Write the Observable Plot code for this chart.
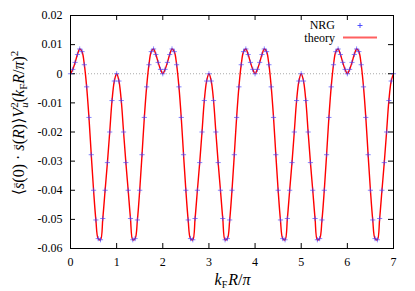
<!DOCTYPE html>
<html>
<head>
<meta charset="utf-8">
<script src="https://cdn.jsdelivr.net/npm/d3@7"></script>
<script src="https://cdn.jsdelivr.net/npm/@observablehq/plot@0.6"></script>
<style>
  html, body { margin: 0; padding: 0; background: #fff; }
  #chart svg { display: block; }
  #chart svg, #chart svg text, #chart svg g { font-family: "Liberation Serif", "DejaVu Serif", serif !important; }
</style>
</head>
<body>
<div id="chart"></div>
<script>
// kF R / pi sampled every xStep from 0 to 7
const xStep = 0.05;
// correlation values (theory curve and NRG points)
const corr = [
  0, 0.0015, 0.0039, 0.0066, 0.0085, 0.0076, 0.0031, -0.0045, -0.0150, -0.0278, -0.0400,
  -0.0502, -0.0566, -0.0570, -0.0497, -0.0400, -0.0305, -0.0200, -0.0092, -0.0025, 0,
  -0.0025, -0.0092, -0.0200, -0.0305, -0.0400, -0.0497, -0.0570, -0.0566, -0.0502, -0.0400,
  -0.0278, -0.0150, -0.0045, 0.0031, 0.0076, 0.0085, 0.0066, 0.0039, 0.0015, 0,
  0.0015, 0.0039, 0.0066, 0.0085, 0.0076, 0.0031, -0.0045, -0.0150, -0.0278, -0.0400,
  -0.0502, -0.0566, -0.0570, -0.0497, -0.0400, -0.0305, -0.0200, -0.0092, -0.0025, 0,
  -0.0025, -0.0092, -0.0200, -0.0305, -0.0400, -0.0497, -0.0570, -0.0566, -0.0502, -0.0400,
  -0.0278, -0.0150, -0.0045, 0.0031, 0.0076, 0.0085, 0.0066, 0.0039, 0.0015, 0,
  0.0015, 0.0039, 0.0066, 0.0085, 0.0076, 0.0031, -0.0045, -0.0150, -0.0278, -0.0400,
  -0.0502, -0.0566, -0.0570, -0.0497, -0.0400, -0.0305, -0.0200, -0.0092, -0.0025, 0,
  -0.0025, -0.0092, -0.0200, -0.0305, -0.0400, -0.0497, -0.0570, -0.0566, -0.0502, -0.0400,
  -0.0278, -0.0150, -0.0045, 0.0031, 0.0076, 0.0085, 0.0066, 0.0039, 0.0015, 0,
  0.0015, 0.0039, 0.0066, 0.0085, 0.0076, 0.0031, -0.0045, -0.0150, -0.0278, -0.0400,
  -0.0502, -0.0566, -0.0570, -0.0497, -0.0400, -0.0305, -0.0200, -0.0092, -0.0025, 0
];
const xTicks = [0, 1, 2, 3, 4, 5, 6, 7];
const xTickLabels = ["0", "1", "2", "3", "4", "5", "6", "7"];
const yTicks = [0.02, 0.01, 0, -0.01, -0.02, -0.03, -0.04, -0.05, -0.06];
const yTickLabels = ["0.02", "0.01", "0", "-0.01", "-0.02", "-0.03", "-0.04", "-0.05", "-0.06"];
const seriesNames = ["NRG", "theory"];

const data = corr.map((v, i) => ({x: +(i * xStep).toFixed(4), y: v}));

const W = 415, H = 291;
const mL = 70, mR = 22, mT = 15, mB = 43;
const fw = W - mL - mR, fh = H - mT - mB;
const tk = 5;
const serif = "Liberation Serif, serif";

const plot = Plot.plot({
  width: W, height: H,
  marginLeft: mL, marginRight: mR, marginTop: mT, marginBottom: mB,
  style: {fontSize: "12px", fontFamily: serif, background: "#fff", color: "#000"},
  x: {domain: [0, 7]},
  y: {domain: [-0.06, 0.02]},
  marks: [
    Plot.ruleY([0], {stroke: "#aaa", strokeWidth: 1, strokeDasharray: "1,2"}),
    Plot.axisX({ticks: xTicks, tickSize: 0, tickPadding: 9, label: null, fontFamily: serif, fontVariant: "normal",
      tickFormat: d => xTickLabels[xTicks.indexOf(d)], fontSize: 12}),
    Plot.axisY({ticks: yTicks, tickSize: 0, tickPadding: 8, label: null, fontFamily: serif, fontVariant: "normal",
      tickFormat: d => yTickLabels[yTicks.indexOf(d)], fontSize: 12}),
    // inward tick marks on all four sides
    Plot.ruleX(xTicks, {x: d => d, insetTop: fh - tk, stroke: "#000"}),
    Plot.ruleX(xTicks, {x: d => d, insetBottom: fh - tk, stroke: "#000"}),
    Plot.ruleY(yTicks, {y: d => d, insetRight: fw - tk, stroke: "#000"}),
    Plot.ruleY(yTicks, {y: d => d, insetLeft: fw - tk, stroke: "#000"}),
    Plot.line(data, {x: "x", y: "y", stroke: "#ff0000", strokeWidth: 1.4, curve: "catmull-rom"}),
    Plot.dot(data, {x: "x", y: "y", symbol: "plus", r: 1.8, stroke: "#4040ff", strokeWidth: 0.9, strokeOpacity: 0.7}),
    Plot.frame({stroke: "#000", strokeWidth: 1})
  ]
});
document.getElementById("chart").appendChild(plot);

const svg = d3.select(plot);

// legend
const lg = svg.append("g").attr("font-size", 12);
lg.append("text").attr("x", 335).attr("y", 28.5).attr("text-anchor", "end").text(seriesNames[0]);
lg.append("path").attr("d", "M357.5,25.5h5M360,23v5").attr("stroke", "#4040ff").attr("stroke-width", 0.9);
lg.append("text").attr("x", 335).attr("y", 41.5).attr("text-anchor", "end").text(seriesNames[1]);
lg.append("line").attr("x1", 343).attr("x2", 377).attr("y1", 37.5).attr("y2", 37.5)
  .attr("stroke", "#ff6060").attr("stroke-width", 2);

// x label: k_F R / pi
const xl = svg.append("text").attr("x", (mL + W - mR) / 2 + 1).attr("y", 285)
  .attr("text-anchor", "middle").attr("font-size", 16);
xl.append("tspan").attr("font-style", "italic").text("k");
xl.append("tspan").attr("font-size", 10).attr("dy", 3).text("F");
xl.append("tspan").attr("font-style", "italic").attr("dy", -3).attr("dx", 1).text("R");
xl.append("tspan").text("/");
xl.append("tspan").attr("font-style", "italic").text("π");

// y label
const yl = svg.append("text").attr("transform", "translate(24,123) rotate(-90)")
  .attr("text-anchor", "middle").attr("font-size", 16);
const parts = [
  {t: "⟨"},
  {t: "s", it: 1},
  {t: "→", fs: 8, dx: -6.8, dy: -8.5},
  {t: "(0) · ", dy: 8.5, dx: -1},
  {t: "s", it: 1},
  {t: "→", fs: 8, dx: -6.8, dy: -8.5},
  {t: "(", dy: 8.5, dx: -1},
  {t: "R", it: 1},
  {t: ")⟩"},
  {t: "V", it: 1},
  {t: "2", fs: 11, dy: -6},
  {t: "u", fs: 11, it: 1, dx: -5.5, dy: 10},
  {t: "(", dy: -4},
  {t: "k", it: 1},
  {t: "F", fs: 11, dy: 3},
  {t: "R", it: 1, dy: -3},
  {t: "/"},
  {t: "π", it: 1},
  {t: ")"},
  {t: "2", fs: 11, dy: -6}
];
for (const p of parts) {
  const s = yl.append("tspan").text(p.t);
  if (p.it) s.attr("font-style", "italic");
  if (p.fs) s.attr("font-size", p.fs);
  if (p.dx) s.attr("dx", p.dx);
  if (p.dy) s.attr("dy", p.dy);
}
</script>
</body>
</html>
